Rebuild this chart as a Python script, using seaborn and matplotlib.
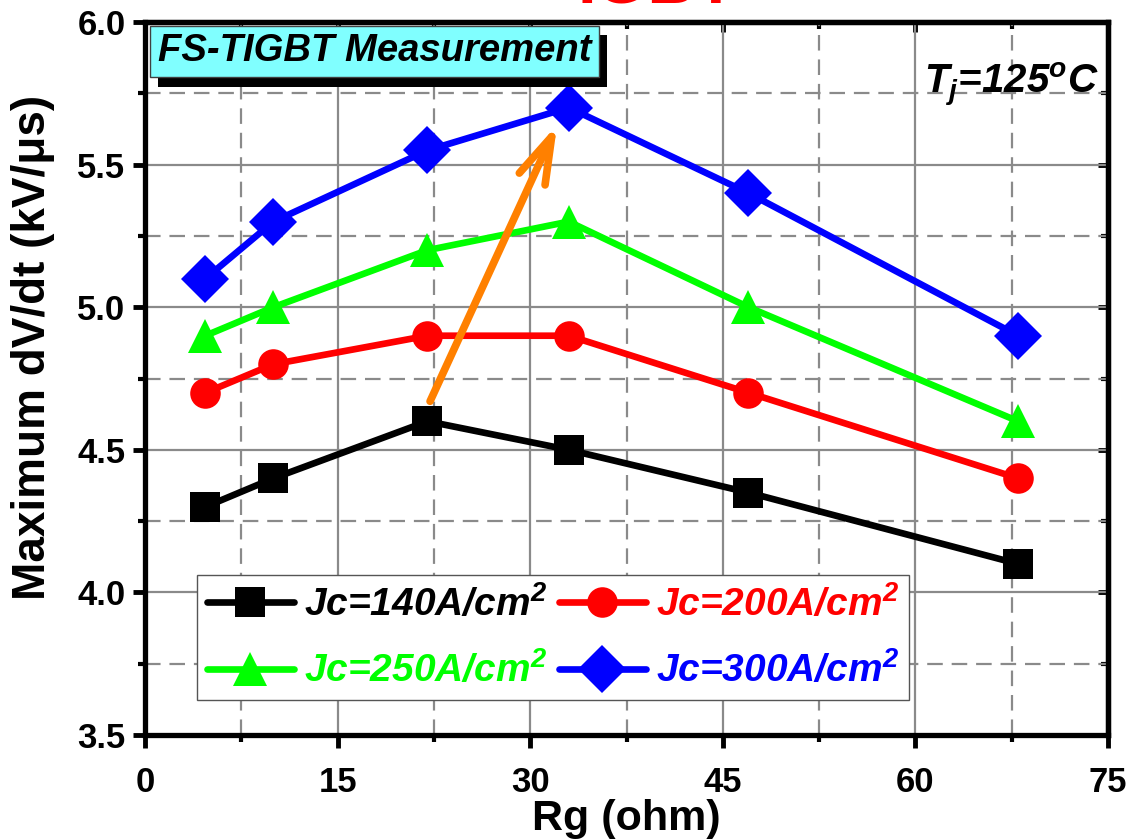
import matplotlib
matplotlib.use("Agg")
import matplotlib.pyplot as plt
import matplotlib.patheffects as pe
from matplotlib.ticker import MultipleLocator, FormatStrFormatter
import numpy as np
import pandas as pd
import seaborn as sns

# Gate resistance (ohm)
rg = [4.7, 10, 22, 33, 47, 68]

# Maximum dV/dt (kV/us) for each collector current density
dvdt_140 = [4.30, 4.40, 4.60, 4.50, 4.35, 4.10]
dvdt_200 = [4.70, 4.80, 4.90, 4.90, 4.70, 4.40]
dvdt_250 = [4.90, 5.00, 5.20, 5.30, 5.00, 4.60]
dvdt_300 = [5.10, 5.30, 5.55, 5.70, 5.40, 4.90]

labels = ["Jc=140A/cm$^2$", "Jc=200A/cm$^2$", "Jc=250A/cm$^2$", "Jc=300A/cm$^2$"]
series = [dvdt_140, dvdt_200, dvdt_250, dvdt_300]
colors = ["#000000", "#FF0000", "#00FF00", "#0000FF"]
markers = ["s", "o", "^", "D"]
msizes = [21, 22, 24, 24]

# Trend arrow through the peaks (data coordinates)
arrow_start = (22.2, 4.67)
arrow_end = (32.1, 5.64)

sns.set_theme(style="white")
plt.rcParams["font.family"] = ["Liberation Sans", "DejaVu Sans"]
plt.rcParams["font.weight"] = "bold"
plt.rcParams["mathtext.default"] = "regular"
for key in ("text.color", "axes.labelcolor", "xtick.color", "ytick.color"):
    plt.rcParams[key] = "black"

fig = plt.figure(figsize=(11.35, 8.4), dpi=100)
ax = fig.add_axes([145 / 1135, 1 - 735 / 840, 963 / 1135, 713 / 840])

df = pd.DataFrame({
    "Rg": np.tile(rg, len(series)),
    "dvdt": np.concatenate(series),
    "group": np.repeat(labels, len(rg)),
})

for lab, col, mk, ms in zip(labels, colors, markers, msizes):
    sub = df[df["group"] == lab]
    sns.lineplot(data=sub, x="Rg", y="dvdt", ax=ax, color=col, lw=4.8,
                 marker=mk, markersize=ms, markeredgewidth=0,
                 label=lab, zorder=3)

ax.set_xlim(0, 75)
ax.set_ylim(3.5, 6.0)
ax.xaxis.set_major_locator(MultipleLocator(15))
ax.xaxis.set_minor_locator(MultipleLocator(7.5))
ax.yaxis.set_major_locator(MultipleLocator(0.5))
ax.yaxis.set_minor_locator(MultipleLocator(0.25))
ax.yaxis.set_major_formatter(FormatStrFormatter("%.1f"))

ax.set_axisbelow(True)
ax.grid(which="major", color="#8a8a8a", lw=1.6, ls="-")
ax.grid(which="minor", color="#8a8a8a", lw=1.6, ls=(0, (7, 4)))

for s in ax.spines.values():
    s.set_linewidth(3.8)
    s.set_color("black")

ax.tick_params(which="major", direction="out", length=9, width=3.5,
               labelsize=25, pad=5, bottom=True, left=True)
ax.tick_params(which="minor", direction="out", length=5, width=3,
               bottom=True, left=True)
ax.tick_params(axis="x", which="major", pad=13)
for lbl in ax.get_xticklabels() + ax.get_yticklabels():
    lbl.set_fontweight("bold")

ax.set_xlabel("Rg (ohm)", fontsize=31, fontweight="bold", labelpad=0)
ax.set_ylabel("Maximum dV/dt (kV/\u03bcs)", fontsize=33, fontweight="bold")
ax.yaxis.set_label_coords(-0.093, 0.544)

# top/right inward ticks
ax2 = ax.secondary_xaxis("top")
ax2.xaxis.set_major_locator(MultipleLocator(15))
ax2.xaxis.set_minor_locator(MultipleLocator(7.5))
ax2.tick_params(which="major", direction="in", length=7, width=3.5, labeltop=False)
ax2.tick_params(which="minor", direction="in", length=5, width=3)
ax2.spines["top"].set_linewidth(3.8)
ay2 = ax.secondary_yaxis("right")
ay2.yaxis.set_major_locator(MultipleLocator(0.5))
ay2.yaxis.set_minor_locator(MultipleLocator(0.25))
ay2.tick_params(which="major", direction="in", length=7, width=3.5, labelright=False)
ay2.tick_params(which="minor", direction="in", length=5, width=3)
ay2.spines["right"].set_linewidth(3.8)

ax.annotate("", xy=arrow_end, xytext=arrow_start,
            arrowprops=dict(arrowstyle="->,head_length=2.8,head_width=0.85",
                            color="#FF8000", lw=5.5, shrinkA=0, shrinkB=0),
            zorder=4)

# legend filled row by row: 140, 200 / 250, 300
handles, hlabels = ax.get_legend_handles_labels()
order = [0, 2, 1, 3]
leg = ax.legend([handles[i] for i in order], [hlabels[i] for i in order],
                loc="lower left", bbox_to_anchor=(0.054, 0.049), borderaxespad=0,
                ncol=2, frameon=True, fancybox=False, framealpha=1,
                edgecolor="#555555", handlelength=2.25, handletextpad=0.25,
                columnspacing=0.3, borderpad=0.25, labelspacing=0.72,
                labelcolor="linecolor",
                prop={"weight": "bold", "style": "italic", "size": 28})
leg.get_frame().set_linewidth(1.0)

t = ax.text(0.013, 0.984, "FS-TIGBT Measurement", transform=ax.transAxes,
            ha="left", va="top", fontsize=27.5, fontweight="bold", fontstyle="italic",
            bbox=dict(boxstyle="square,pad=0.2", facecolor="#80FFFF",
                      edgecolor="#404040", lw=1), zorder=6)
t.get_bbox_patch().set_path_effects([
    pe.SimplePatchShadow(offset=(6, -7), shadow_rgbFace="black", alpha=1),
    pe.Normal()])

ax.text(0.99, 0.913, "T$_j$=125$^o$C", transform=ax.transAxes, ha="right",
        va="center", fontsize=29, fontweight="bold", fontstyle="italic", zorder=6)

fig.text(0.579, 1 - 3.5 / 840, "IGBT", ha="center", va="baseline", color="red",
         fontsize=48, fontweight="bold")

fig.savefig("out.png", dpi=100)
